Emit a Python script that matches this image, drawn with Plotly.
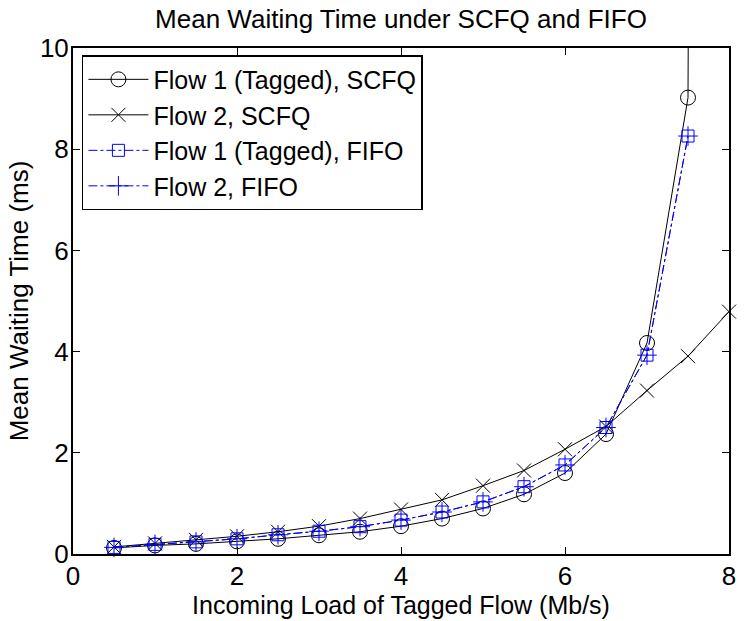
import plotly.graph_objects as go

load = [0.5, 1.0, 1.5, 2.0, 2.5, 3.0, 3.5, 4.0, 4.5, 5.0, 5.5, 6.0, 6.5, 7.0, 7.5]
load_ext = load + [8.0]

flow1_scfq = [0.12, 0.17, 0.20, 0.25, 0.30, 0.37, 0.44, 0.55, 0.70, 0.90, 1.18, 1.60, 2.37, 4.17, 9.02, 200.0]
flow2_scfq = [0.14, 0.21, 0.28, 0.35, 0.44, 0.55, 0.70, 0.88, 1.07, 1.35, 1.65, 2.07, 2.52, 3.23, 3.91, 4.79]
flow1_fifo = [0.13, 0.19, 0.24, 0.30, 0.38, 0.45, 0.54, 0.67, 0.83, 1.03, 1.33, 1.76, 2.50, 3.93, 8.26]
flow2_fifo = [0.13, 0.19, 0.24, 0.30, 0.38, 0.45, 0.54, 0.67, 0.83, 1.03, 1.33, 1.76, 2.50, 3.93, 8.26]

names = ["Flow 1 (Tagged), SCFQ", "Flow 2, SCFQ", "Flow 1 (Tagged), FIFO", "Flow 2, FIFO"]
x_ticks = [0, 2, 4, 6, 8]
y_ticks = [0, 2, 4, 6, 8, 10]

FONT = "Liberation Sans, Arial, Helvetica, sans-serif"
FS = 26
BLUE = "rgb(0,0,255)"

fig = go.Figure()
fig.add_trace(go.Scatter(
    x=load_ext, y=flow1_scfq, name=names[0], mode="lines+markers",
    line=dict(color="black", width=1),
    marker=dict(symbol="circle-open", size=15, color="black", line=dict(width=1)),
    cliponaxis=True))
fig.add_trace(go.Scatter(
    x=load_ext, y=flow2_scfq, name=names[1], mode="lines+markers",
    line=dict(color="black", width=1),
    marker=dict(symbol="x-thin-open", size=14, color="black", line=dict(width=1)),
    cliponaxis=False))
fig.add_trace(go.Scatter(
    x=load, y=flow1_fifo, name=names[2], mode="lines+markers",
    line=dict(color=BLUE, width=1, dash="dashdot"),
    marker=dict(symbol="square-open", size=12, color=BLUE, line=dict(width=1)),
    cliponaxis=False))
fig.add_trace(go.Scatter(
    x=load, y=flow2_fifo, name=names[3], mode="lines+markers",
    line=dict(color=BLUE, width=1, dash="dashdot"),
    marker=dict(symbol="cross-thin-open", size=14, color=BLUE, line=dict(width=1)),
    cliponaxis=False))

axis_common = dict(
    showline=True, linecolor="black", linewidth=2, mirror="ticks",
    ticks="inside", ticklen=7, tickcolor="black", tickwidth=1,
    showgrid=False, zeroline=False,
    tickfont=dict(family=FONT, size=FS, color="black"),
)

fig.update_layout(
    width=744, height=621,
    margin=dict(l=73, r=8, t=48, b=61),
    paper_bgcolor="white", plot_bgcolor="white",
    font=dict(family=FONT, size=FS, color="black"),
    title=dict(text="Mean Waiting Time under SCFQ and FIFO",
               x=0.5, xref="paper", xanchor="center",
               y=1 - 19 / 621, yref="container", yanchor="middle",
               font=dict(family=FONT, size=FS, color="black")),
    xaxis=dict(range=[0, 8], tickvals=x_ticks, ticktext=[str(v) for v in x_ticks],
               ticklabelstandoff=-2,
               title=dict(text="Incoming Load of Tagged Flow (Mb/s)", standoff=4,
                          font=dict(family=FONT, size=FS - 1, color="black")),
               **axis_common),
    yaxis=dict(range=[0, 10], tickvals=y_ticks, ticktext=[str(v) for v in y_ticks],
               ticklabelstandoff=-3,
               title=dict(text="Mean Waiting Time (ms)", standoff=4,
                          font=dict(family=FONT, size=FS, color="black")),
               **axis_common),
    legend=dict(x=0.0136, y=0.986, xanchor="left", yanchor="top",
                bgcolor="white", bordercolor="black", borderwidth=1.5,
                font=dict(family=FONT, size=FS - 1, color="black"),
                tracegroupgap=0, itemwidth=60),
    showlegend=True,
)

fig.write_html("out.html")
